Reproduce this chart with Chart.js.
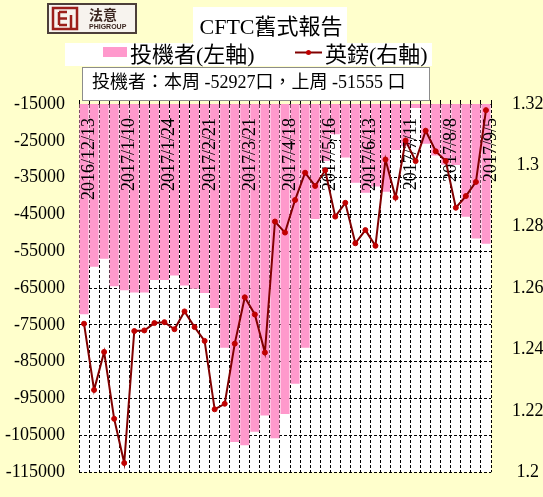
<!DOCTYPE html>
<html>
<head>
<meta charset="utf-8">
<script src="https://cdn.jsdelivr.net/npm/chart.js@4.4.1/dist/chart.umd.min.js"></script>
<style>
  html, body { margin: 0; padding: 0; background: #FFFFCC; }
  #wrap { position: relative; width: 543px; height: 497px; }
  #plotbg { position: absolute; background: #fff; }
  canvas { display: block; position: absolute; left: 0; top: 0; }
</style>
</head>
<body>
<div id="wrap"><div id="plotbg"></div><canvas id="chart" width="543" height="497"></canvas></div>
<script>
// tick labels shown every 4th week
const tickLabels = ['2016/12/13', '2017/1/10', '2017/1/24', '2017/2/21', '2017/3/21', '2017/4/18',
  '2017/5/16', '2017/6/13', '2017/7/11', '2017/8/8', '2017/9/5'];

// speculators net position (contracts), left axis
const specNet = [-72100, -59200, -57000, -64500, -65600, -66200, -66200, -62800, -62800, -61600,
  -64300, -65200, -66300, -70400, -81200, -106800, -107700, -104000, -99600, -105800,
  -99200, -91000, -81200, -46200, -30500, -23200, -29500, -36400, -39100, -37400,
  -38800, -27500, -26500, -16100, -25800, -29000, -31500, -31600, -45600, -51555, -52927];

// GBP/USD, right axis
const gbp = [1.2484, 1.2268, 1.2392, 1.2174, 1.2030, 1.2460, 1.2462, 1.2486, 1.2489, 1.2466,
  1.2524, 1.2473, 1.2428, 1.2205, 1.2223, 1.2419, 1.2570, 1.2514, 1.2390, 1.2817,
  1.2781, 1.2887, 1.2976, 1.2933, 1.2984, 1.2833, 1.2878, 1.2746, 1.2789, 1.2738,
  1.3019, 1.2895, 1.3081, 1.3014, 1.3113, 1.3046, 1.3014, 1.2862, 1.2900, 1.2946, 1.3180];

const weeks = specNet.map((v, i) => (i % 4 === 0 ? tickLabels[i / 4] : ''));

const SERIF = '"Liberation Serif", "Noto Sans CJK TC", serif';
const PINK = '#FF99CC';
const LINE = '#800000';
const DOT = '#C00000';

function drawHeader(chart) {
  const c = chart.ctx;
  c.save();
  // logo
  c.fillStyle = '#4d3f3a';
  c.fillRect(47, 3, 90, 31);
  c.fillStyle = '#f7f3ee';
  c.fillRect(49, 5, 86, 27);
  c.strokeStyle = '#9c1f1a';
  c.lineWidth = 2.5;
  c.strokeRect(53, 8, 24, 21);
  c.beginPath();
  c.moveTo(59, 12); c.lineTo(59, 25);
  c.moveTo(59, 12); c.lineTo(67, 12);
  c.moveTo(59, 18.5); c.lineTo(67, 18.5);
  c.moveTo(59, 25); c.lineTo(67, 25);
  c.moveTo(71, 15); c.lineTo(71, 29);
  c.stroke();
  c.fillStyle = '#3b2620';
  c.font = 'bold 14px "Noto Sans CJK TC"';
  c.textBaseline = 'alphabetic';
  c.fillText('法意', 89, 20);
  c.font = 'bold 7px "Liberation Sans"';
  c.fillText('PHIGROUP', 89, 29);

  // title
  c.fillStyle = '#fff';
  c.fillRect(193, 7, 154, 36);
  c.fillStyle = '#000';
  c.font = '22px ' + SERIF;
  c.textAlign = 'center';
  c.fillText('CFTC舊式報告', 271, 34);

  // legend
  c.fillStyle = '#fff';
  c.fillRect(65, 43, 367, 23);
  const ds = chart.data.datasets;
  c.fillStyle = ds[0].backgroundColor;
  c.fillRect(103, 47, 24, 10);
  c.strokeStyle = ds[1].borderColor;
  c.lineWidth = 2;
  c.beginPath();
  c.moveTo(295, 52.5); c.lineTo(322, 52.5);
  c.stroke();
  c.fillStyle = DOT;
  c.beginPath();
  c.arc(308.5, 52.5, 2.5, 0, Math.PI * 2);
  c.fill();
  c.fillStyle = '#000';
  c.textAlign = 'left';
  c.font = '22px ' + SERIF;
  c.fillText(ds[0].label, 130, 62);
  c.fillText(ds[1].label, 325, 62);

  // note box with this week / last week
  c.fillStyle = '#fff';
  c.fillRect(82, 67, 348, 34);
  c.strokeStyle = '#8c8c8c';
  c.lineWidth = 1;
  c.strokeRect(82.5, 67.5, 347, 33);
  const cur = specNet[specNet.length - 1];
  const prev = specNet[specNet.length - 2];
  c.fillStyle = '#000';
  c.font = '18px ' + SERIF;
  c.fillText('投機者：本周 ' + cur + '口，上周 ' + prev + ' 口', 92, 88);
  c.restore();
}

const decor = {
  id: 'decor',
  afterDatasetDraw(chart, args) {
    if (args.index !== 0) return;
    const c = chart.ctx;
    const x = chart.scales.x;
    const a = chart.chartArea;
    c.save();
    c.fillStyle = '#000';
    c.font = '18px ' + SERIF;
    c.textAlign = 'right';
    c.textBaseline = 'alphabetic';
    weeks.forEach((lab, i) => {
      if (!lab) return;
      const px = x.getPixelForValue(i) + 10;
      c.save();
      c.translate(px, a.top + 14);
      c.rotate(-Math.PI / 2);
      c.fillText(lab, 0, 0);
      c.restore();
    });
    c.restore();
  },
  afterDraw(chart) {
    drawHeader(chart);
  }
};

const chart = new Chart(document.getElementById('chart'), {
  type: 'bar',
  data: {
    labels: weeks,
    datasets: [{
      type: 'bar',
      label: '投機者(左軸)',
      data: specNet,
      backgroundColor: PINK,
      borderWidth: 0,
      barPercentage: 0.9,
      categoryPercentage: 1.0,
      yAxisID: 'y',
      order: 2
    }, {
      type: 'line',
      label: '英鎊(右軸)',
      data: gbp,
      borderColor: LINE,
      borderWidth: 2,
      pointRadius: 2.5,
      pointBackgroundColor: DOT,
      pointBorderColor: DOT,
      pointBorderWidth: 1,
      tension: 0,
      yAxisID: 'y1',
      order: 1
    }]
  },
  options: {
    responsive: false,
    animation: false,
    layout: {
      padding: { top: 100, bottom: 19, left: 0, right: 0 }
    },
    plugins: {
      legend: { display: false },
      title: { display: false },
      tooltip: { enabled: false }
    },
    scales: {
      x: {
        position: 'top',
        grid: { color: '#000', tickLength: 4 },
        border: { color: '#000', dash: [3, 2] },
        ticks: { display: false, autoSkip: false }
      },
      y: {
        position: 'left',
        min: -115000,
        max: -15000,
        ticks: {
          stepSize: 10000,
          padding: 14,
          color: '#000',
          font: { size: 18, family: SERIF },
          callback: (v) => String(v)
        },
        grid: { color: '#000', drawTicks: false },
        border: { display: false, dash: [3, 2] },
        afterFit(s) { s.width = 79; }
      },
      y1: {
        position: 'right',
        min: 1.2,
        max: 1.32,
        ticks: {
          stepSize: 0.02,
          padding: 13,
          crossAlign: 'center',
          color: '#000',
          font: { size: 18, family: SERIF },
          callback: (v) => String(+v.toFixed(2))
        },
        grid: { display: false },
        border: { display: false },
        afterFit(s) { s.width = 52; }
      }
    }
  },
  plugins: [decor]
});

const a = chart.chartArea;
const bg = document.getElementById('plotbg');
bg.style.left = a.left + 'px';
bg.style.top = a.top + 'px';
bg.style.width = (a.right - a.left) + 'px';
bg.style.height = (a.bottom - a.top) + 'px';
</script>
</body>
</html>
